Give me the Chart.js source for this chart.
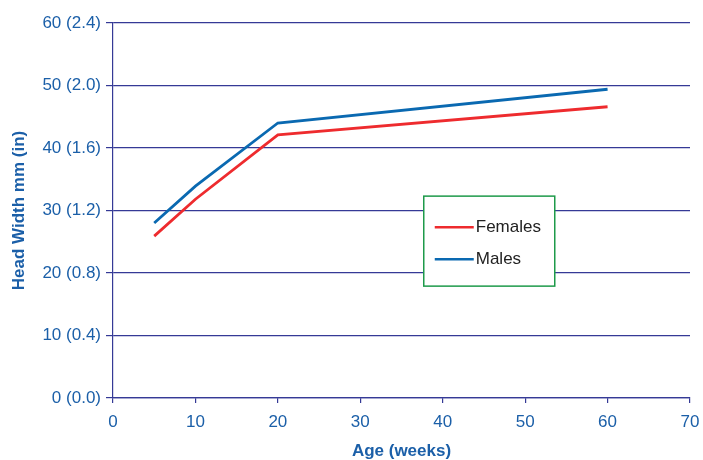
<!DOCTYPE html>
<html>
<head>
<meta charset="utf-8">
<script src="https://cdn.jsdelivr.net/npm/chart.js@4"></script>
<style>
  html, body { margin: 0; padding: 0; background: #fff; }
</style>
</head>
<body>
<canvas id="grafico" width="703" height="460"></canvas>
<script>
const ages = [5, 10, 20, 60];
const females = [25.9, 31.8, 42.1, 46.6];
const males = [28.0, 33.9, 44.0, 49.4];
const yTickLabels = ['0 (0.0)', '10 (0.4)', '20 (0.8)', '30 (1.2)', '40 (1.6)', '50 (2.0)', '60 (2.4)'];

const axisColor = '#353a96';
const textColor = '#1b5fa8';
const fontFam = '"Liberation Sans", Arial, sans-serif';

// legend drawn as a framed box inside the plot
const legendBox = {
  id: 'legendBox',
  afterDraw(chart) {
    const ctx = chart.ctx;
    const x = chart.scales.x.getPixelForValue(37.7);
    const y = chart.scales.y.getPixelForValue(32.3);
    const w = 131, h = 90;
    ctx.save();
    ctx.fillStyle = '#fff';
    ctx.fillRect(x, y, w, h);
    ctx.strokeStyle = '#1e9a4a';
    ctx.lineWidth = 1.5;
    ctx.strokeRect(x, y, w, h);
    ctx.font = '17px ' + fontFam;
    ctx.textBaseline = 'middle';
    chart.data.datasets.forEach((ds, i) => {
      const ly = y + 31 + i * 32;
      ctx.strokeStyle = ds.borderColor;
      ctx.lineWidth = 2.5;
      ctx.beginPath();
      ctx.moveTo(x + 11, ly);
      ctx.lineTo(x + 50, ly);
      ctx.stroke();
      ctx.fillStyle = '#222';
      ctx.fillText(ds.label, x + 52, ly);
    });
    ctx.restore();
  }
};

let grafico = document.getElementById('grafico').getContext('2d');

var chart = new Chart(grafico, {
  type: 'line',
  data: {
    datasets: [{
      label: 'Females',
      data: ages.map((a, i) => ({ x: a, y: females[i] })),
      borderColor: '#ee2b2e',
      backgroundColor: '#ee2b2e',
      borderWidth: 2.8,
      pointRadius: 0,
      tension: 0
    }, {
      label: 'Males',
      data: ages.map((a, i) => ({ x: a, y: males[i] })),
      borderColor: '#0a69b1',
      backgroundColor: '#0a69b1',
      borderWidth: 2.8,
      pointRadius: 0,
      tension: 0
    }]
  },
  options: {
    responsive: false,
    animation: false,
    devicePixelRatio: 1,
    layout: { padding: { left: 0, right: 13, top: 23, bottom: 0 } },
    plugins: {
      legend: { display: false },
      tooltip: { enabled: false }
    },
    scales: {
      x: {
        type: 'linear',
        min: 0,
        max: 70,
        ticks: {
          stepSize: 10,
          autoSkip: false,
          maxRotation: 0,
          color: textColor,
          font: { family: fontFam, size: 17 },
          padding: 9
        },
        grid: {
          drawOnChartArea: false,
          color: axisColor,
          tickLength: 5,
          lineWidth: 1.2
        },
        border: { color: axisColor, width: 1.2 },
        title: {
          display: true,
          text: 'Age (weeks)',
          color: textColor,
          font: { family: fontFam, size: 17, weight: 'bold' },
          padding: { top: 0, bottom: -2 }
        },
        afterFit(scale) {
          scale.height = 62;
          scale.paddingRight = 0;
          scale.paddingLeft = 0;
        }
      },
      y: {
        min: 0,
        max: 60,
        ticks: {
          stepSize: 10,
          autoSkip: false,
          color: textColor,
          font: { family: fontFam, size: 17 },
          padding: 5,
          callback: (v) => yTickLabels[v / 10]
        },
        grid: {
          color: axisColor,
          tickLength: 7,
          lineWidth: 1.2
        },
        border: { color: axisColor, width: 1.2 },
        title: {
          display: true,
          text: 'Head Width mm (in)',
          color: textColor,
          font: { family: fontFam, size: 17, weight: 'bold' },
          padding: { top: 9, bottom: 4 }
        },
        afterFit(scale) { scale.width = 113; }
      }
    }
  },
  plugins: [legendBox]
});
</script>
</body>
</html>
